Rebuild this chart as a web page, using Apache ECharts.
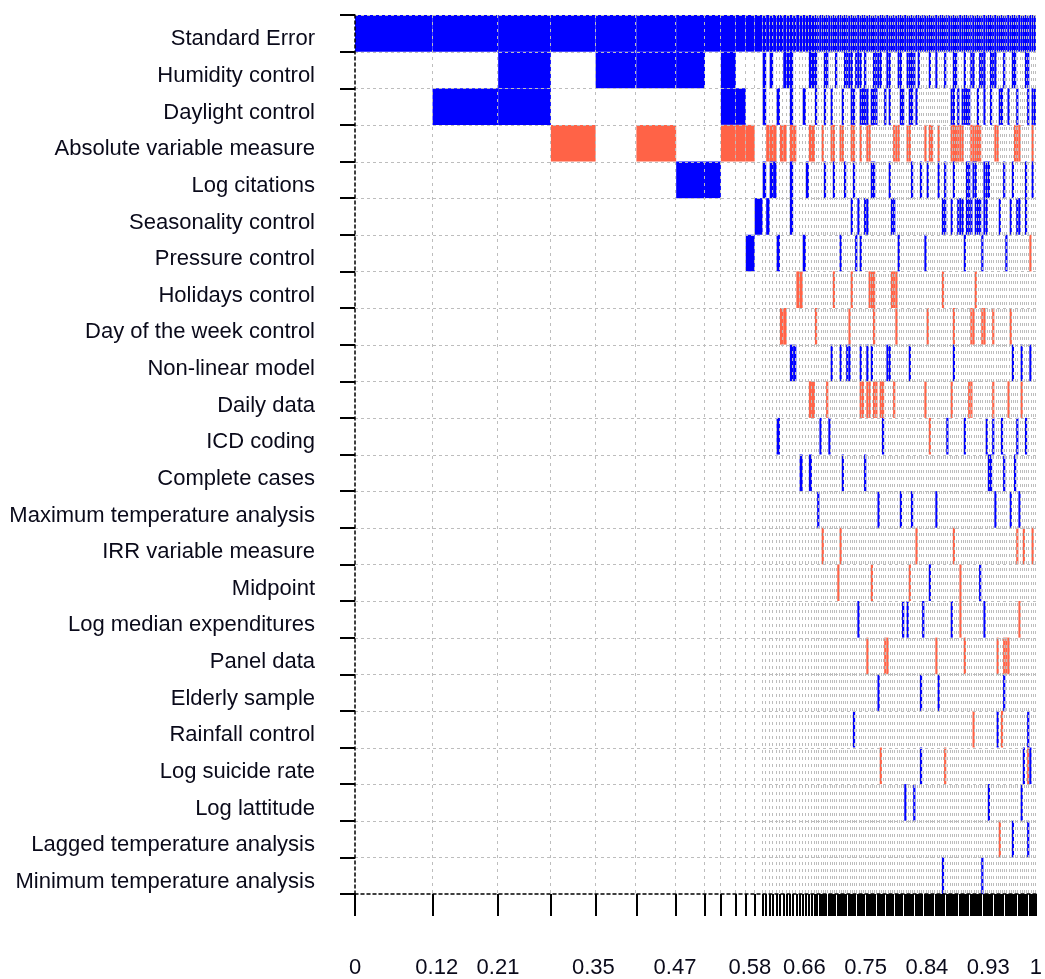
<!DOCTYPE html>
<html>
<head>
<meta charset="utf-8">
<script src="https://cdn.jsdelivr.net/npm/echarts@6/dist/echarts.min.js"></script>
<style>html,body{margin:0;padding:0;background:#fff}#c{width:1045px;height:979px}</style>
</head>
<body>
<div id="c"></div>
<script>
// Variables (rows, top to bottom)
const variables = [
  "Standard Error", "Humidity control", "Daylight control", "Absolute variable measure",
  "Log citations", "Seasonality control", "Pressure control", "Holidays control",
  "Day of the week control", "Non-linear model", "Daily data", "ICD coding",
  "Complete cases", "Maximum temperature analysis", "IRR variable measure", "Midpoint",
  "Log median expenditures", "Panel data", "Elderly sample", "Rainfall control",
  "Log suicide rate", "Log lattitude", "Lagged temperature analysis", "Minimum temperature analysis"
];

// Posterior model probabilities (column widths), best model first
const pmpTop = [0.1139, 0.0964, 0.0774, 0.0657, 0.0599, 0.0584, 0.0423, 0.0234, 0.0219, 0.0146, 0.0131, 0.0117];
const pmpMid = [0.0052, 0.0051, 0.0051, 0.0050, 0.0050, 0.0049, 0.0049, 0.0048,
                0.0048, 0.0047, 0.0047, 0.0046, 0.0046, 0.0045, 0.0045, 0.0044];
const pmpTail = [
  0.00328, 0.00328, 0.00328, 0.00328, 0.00328, 0.00328, 0.00328, 0.00328, 0.00328, 0.00328,
  0.00328, 0.00328, 0.00328, 0.00328, 0.00328, 0.00328, 0.00328, 0.00328, 0.00328, 0.00328,
  0.00328, 0.00328, 0.00328, 0.00328, 0.00328, 0.00328, 0.00328, 0.00328, 0.00328, 0.00328,
  0.00328, 0.00328, 0.00328, 0.00328, 0.00328, 0.00328, 0.00328, 0.00328, 0.00328, 0.00328,
  0.00328, 0.00328, 0.00328, 0.00328, 0.00328, 0.00328, 0.00328, 0.00328, 0.00328, 0.00328,
  0.00321, 0.00321, 0.00321, 0.00321, 0.00321, 0.00321, 0.00321, 0.00321, 0.00321, 0.00321,
  0.00321, 0.00321, 0.00321, 0.00321, 0.00321, 0.00321, 0.00321, 0.00321, 0.00321, 0.00321,
  0.00321, 0.00321, 0.00321, 0.00321, 0.00321, 0.00321, 0.00321, 0.00321, 0.00321, 0.00321,
  0.00321, 0.00321, 0.00321, 0.00321, 0.00321, 0.00321, 0.00321, 0.00321, 0.00321, 0.00321,
  0.00321, 0.00321, 0.00321, 0.00321, 0.00321, 0.00321, 0.00321, 0.00321, 0.00321, 0.00321
];

// Inclusion per variable: "+m" positive coefficient in model m, "-m" negative; "a..b" = range of models
const inclusion = [
  "+1..128",
  "+3 +5..7 +9 +13 +15 +19 +20 +21 +27..29 +33 +34 +38 +42..45 +47..49 +51 +55..58 +61 +62 +66 +67 +70..73 +75 +80 +83 +87 +91 +92 +96 +99 +100 +103..105 +108..110 +114 +118 +119 +124 +125",
  "+2 +3 +9 +10 +13 +17 +21 +25 +29 +33 +36 +41 +45 +46 +49..52 +54..56 +60 +62 +67 +68 +71 +72 +74 +90 +91 +93 +95..98 +102 +105 +108 +112 +113 +116 +120 +125 +127 +128",
  "-4 -6 -9..11 -14..16 -18 -19 -21 -22 -27 -28 -32 -36 -37 -40 -41 -45 -46 -49 -52 -53 -64..66 -70 -71 -78 -80 -81 -84 -90..95 -99..103 -110 -111 -119..121 -127",
  "+7 +8 +13 +15 +16 +21 +26 +33 +37 +42 +46 +54 +55 +62 +72 +76 +79 +84 +87 +91 +97 +98 +100 +101 +105..107 +114 +118 +124 +127",
  "+12 +14 +21 +45 +48 +51 +52 +63 +64 +86 +87 +90 +93..95 +97..99 +101..103 +105 +106 +112 +117 +120 +121 +124",
  "+11 +17 +25 +40 +47 +49 +66 +78 +96 +104 +115 -126",
  "-23 -24 -37 -45 -53..55 -63..65 -86 -101",
  "-18 -19 -29 -44 -55 -65 -79 -91 -99 -100 -104 -105 -109 -117",
  "+21 +22 +36 +40 +43 +44 +49 +52 +54 +61 +62 +71 +91 +118 +122 +126",
  "-27 -28 -34 -49 -50 -52 -53 -55 -56 -58 -59 -64 -78 -90 -98 -99 -109 -116 -122",
  "+17 +31 +35 +59 -80 +88 +96 +106 +109 +113 +120 +124",
  "+24 +27 +41 +51 +107 +108 +114 +119",
  "+30 +57 +67 +72 +83 +110 +117 +121",
  "-32 -40 -74 -91 -120 -123 -127",
  "-39 -54 -71 +80 -94 +103",
  "+48 +68 +70 +77 +90 -94 +105 -121",
  "-52 -60 -61 -83 -96 -111 -114..116",
  "+57 +76 +84 +114",
  "+46 -100 +111 -113 +125",
  "-58 +76 -87 +123 -125 +126",
  "+69 +73 +107 +122",
  "-112 +118 +125",
  "+86 +104"
];

// Cumulative model probability labels on the x axis
const xTickLabels = [0, 0.12, 0.21, 0.35, 0.47, 0.58, 0.66, 0.75, 0.84, 0.93, 1];

const BLUE = '#0000ff', RED = '#ff6347', GRIDC = '#bdbdbd';
const FONT = 'Liberation Sans, Arial, sans-serif';
const TEXTC = '#0a0a1a';

const pmp = pmpTop.concat(pmpMid, pmpTail);
const cum = [0];
pmp.forEach(p => cum.push(cum[cum.length - 1] + p));
const total = cum[cum.length - 1];
const bounds = cum.map(c => c / total);

const cells = [];
inclusion.forEach((str, vi) => {
  str.trim().split(/\s+/).forEach(tok => {
    const s = tok[0] === '-' ? -1 : 1;
    const body = tok.slice(1);
    let a, b;
    if (body.indexOf('..') >= 0) { [a, b] = body.split('..').map(Number); } else { a = b = Number(body); }
    for (let m = a; m <= b; m++) {
      if (m >= 1 && m <= pmp.length) cells.push([bounds[m - 1], bounds[m], vi, s]);
    }
  });
});

const chart = echarts.init(document.getElementById('c'), null, {renderer: 'canvas'});
chart.setOption({
  animation: false,
  backgroundColor: '#fff',
  grid: {left: 355, right: 5, top: 15, bottom: 84, containLabel: false},
  xAxis: {
    type: 'value', min: 0, max: 1, z: 5,
    axisLine: {show: true, lineStyle: {color: '#000', width: 1.5, type: [3, 3]}},
    axisTick: {show: true, customValues: bounds, length: 22, lineStyle: {color: '#000', width: 2}},
    axisLabel: {customValues: xTickLabels, margin: 63, fontSize: 22, color: TEXTC, fontFamily: FONT,
      formatter: v => String(Math.round(v * 100) / 100)},
    splitLine: {show: false}
  },
  yAxis: {
    type: 'category', data: variables, inverse: true, z: 5,
    axisLine: {show: true, lineStyle: {color: '#000', width: 1.5, type: [3, 3]}},
    axisTick: {show: true, length: 15, interval: 0, lineStyle: {color: '#000', width: 2}},
    axisLabel: {show: false},
    splitLine: {show: false}
  },
  series: [
    {
      type: 'custom', z: 2, data: cells, encode: {x: [0, 1], y: 2},
      renderItem(params, api) {
        const p0 = api.coord([api.value(0), api.value(2)]);
        const p1 = api.coord([api.value(1), api.value(2)]);
        const h = api.size([0, 1])[1];
        return {type: 'rect', shape: {x: p0[0], y: p0[1] - h / 2, width: p1[0] - p0[0], height: h},
          style: {fill: api.value(3) > 0 ? BLUE : RED}};
      }
    },
    {
      type: 'custom', z: 3, silent: true, data: bounds.slice(1).map(b => [b, 0]), encode: {x: 0, y: 1},
      renderItem(params, api) {
        const cs = params.coordSys;
        const x = Math.round(api.coord([api.value(0), 0])[0]) - 0.5;
        return {type: 'line', shape: {x1: x, y1: cs.y, x2: x, y2: cs.y + cs.height},
          style: {stroke: GRIDC, lineWidth: 1, lineDash: [3, 4]}};
      }
    },
    {
      type: 'custom', z: 3, silent: true, data: variables.map((v, i) => [0, i]), encode: {x: 0, y: 1},
      renderItem(params, api) {
        const cs = params.coordSys;
        const c = api.coord([0, api.value(1)]);
        const h = api.size([0, 1])[1];
        const y = Math.round(c[1] - h / 2) + 0.5;
        return {type: 'line', shape: {x1: cs.x, y1: y, x2: cs.x + cs.width, y2: y},
          style: {stroke: GRIDC, lineWidth: 1, lineDash: [3, 3]}};
      }
    },
    {
      // Row labels (variable names), placed at each category row through the y axis
      type: 'custom', z: 6, silent: true, clip: false,
      data: variables.map((v, i) => [0, i]), encode: {x: 0, y: 1},
      renderItem(params, api) {
        const cs = params.coordSys;
        const c = api.coord([0, api.value(1)]);
        return {type: 'text', x: cs.x - 40, y: c[1] + 6,
          style: {text: variables[params.dataIndex], align: 'right', verticalAlign: 'middle',
            fontSize: 22, fontFamily: FONT, fill: TEXTC}};
      }
    }
  ]
});
</script>
</body>
</html>
